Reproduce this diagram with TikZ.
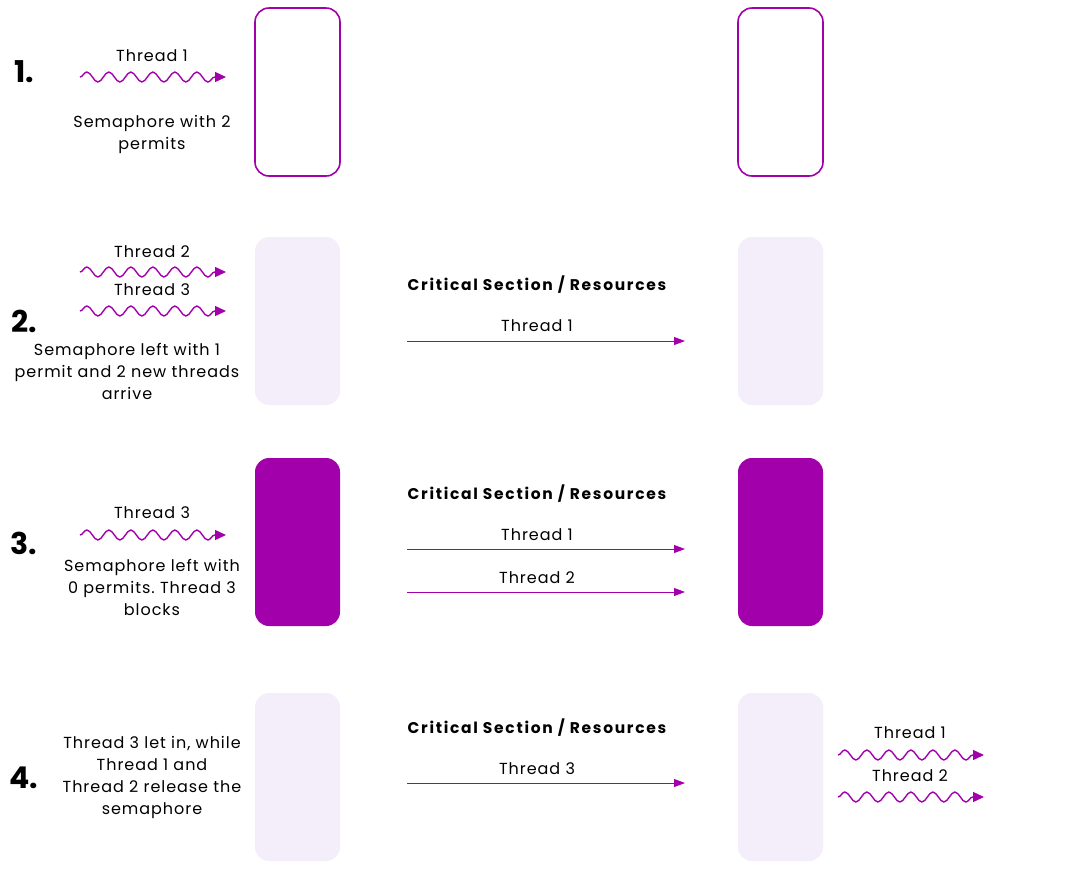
\documentclass[tikz,border=0pt]{standalone}
\usepackage{fontspec}
\setmainfont{Poppins}
\usetikzlibrary{arrows.meta,decorations.pathmorphing,positioning}
\definecolor{sempurple}{HTML}{A100AB}
\definecolor{semlight}{HTML}{F3EEF9}
\frenchspacing

\begin{document}
\begin{tikzpicture}[x=1pt,y=-1pt]
             \tikzstyle{gate} = [rounded corners=14pt,minimum width=85pt,minimum height=168pt,inner sep=0pt]
             \tikzstyle{opengate} = [gate,draw=sempurple,line width=1.6pt,fill=white]
             \tikzstyle{freegate} = [gate,fill=semlight]
             \tikzstyle{fullgate} = [gate,fill=sempurple]
             \tikzstyle{thread} = [draw=sempurple,line width=1.4pt,-{Triangle[length=11pt,width=10pt]},decorate,decoration={snake,segment length=22pt,amplitude=5pt,post length=10pt}]
             \tikzstyle{enter} = [draw=sempurple,line width=0.9pt,-{Triangle[length=11pt,width=8pt]}]
             \tikzstyle{txt} = [font=\fontsize{16}{22}\selectfont\addfontfeature{LetterSpace=6},align=center,inner sep=0pt]
             \tikzstyle{stepnum} = [font=\fontsize{30}{32}\bfseries\selectfont,inner sep=0pt]
             \tikzstyle{cstitle} = [font=\fontsize{15.5}{17}\bfseries\selectfont\addfontfeature{LetterSpace=11},inner sep=0pt]
		\useasboundingbox (0,0) rectangle (1088,879);
		% Step 1
		\node[stepnum] (n1) at (24,72) {1.};
		\node[opengate] (sem1) at (297.5,92) {};
		\node[opengate] (cs1) at (780.5,92) {};
		\node[txt] (t1_1) at (152,56) {Thread 1};
		\coordinate (w1_1a) at (80,77);
		\coordinate (w1_1b) at (226,77);
		\draw[thread] (w1_1a) -- (w1_1b);
		\node[txt] (d1) at (152,134) {Semaphore with 2\\permits};
		% Step 2
		\node[stepnum] (n2) at (24,321) {2.};
		\node[freegate] (sem2) at (297.5,321) {};
		\node[freegate] (cs2) at (780.5,321) {};
		\node[txt] (t2_2) at (152,252) {Thread 2};
		\coordinate (w2_2a) at (80,272);
		\coordinate (w2_2b) at (226,272);
		\draw[thread] (w2_2a) -- (w2_2b);
		\node[txt] (t2_3) at (152,290) {Thread 3};
		\coordinate (w2_3a) at (80,311);
		\coordinate (w2_3b) at (226,311);
		\draw[thread] (w2_3a) -- (w2_3b);
		\node[txt] (d2) at (127,371) {Semaphore left with 1\\permit and 2 new threads\\arrive};
		\node[cstitle] (h2) at (537,285) {Critical Section / Resources};
		\node[txt] (r2_1) at (537,326) {Thread 1};
		\coordinate (a2_1a) at (407,341);
		\coordinate (a2_1b) at (685,341);
		\draw[enter] (a2_1a) -- (a2_1b);
		% Step 3
		\node[stepnum] (n3) at (24,543) {3.};
		\node[fullgate] (sem3) at (297.5,542) {};
		\node[fullgate] (cs3) at (780.5,542) {};
		\node[txt] (t3_3) at (152,513) {Thread 3};
		\coordinate (w3_3a) at (80,535);
		\coordinate (w3_3b) at (226,535);
		\draw[thread] (w3_3a) -- (w3_3b);
		\node[txt] (d3) at (152,587) {Semaphore left with\\0 permits. Thread 3\\blocks};
		\node[cstitle] (h3) at (537,494) {Critical Section / Resources};
		\node[txt] (r3_1) at (537,535) {Thread 1};
		\coordinate (a3_1a) at (407,549);
		\coordinate (a3_1b) at (685,549);
		\draw[enter] (a3_1a) -- (a3_1b);
		\node[txt] (r3_2) at (537,578) {Thread 2};
		\coordinate (a3_2a) at (407,592);
		\coordinate (a3_2b) at (685,592);
		\draw[enter] (a3_2a) -- (a3_2b);
		% Step 4
		\node[stepnum] (n4) at (24,778) {4.};
		\node[freegate] (sem4) at (297.5,777) {};
		\node[freegate] (cs4) at (780.5,777) {};
		\node[txt] (d4) at (152,777) {Thread 3 let in, while\\Thread 1 and\\Thread 2 release the\\semaphore};
		\node[cstitle] (h4) at (537,728) {Critical Section / Resources};
		\node[txt] (r4_3) at (537,769) {Thread 3};
		\coordinate (a4_3a) at (407,783);
		\coordinate (a4_3b) at (685,783);
		\draw[enter] (a4_3a) -- (a4_3b);
		\node[txt] (o4_1) at (910,733) {Thread 1};
		\coordinate (w4_1a) at (838,755);
		\coordinate (w4_1b) at (984,755);
		\draw[thread] (w4_1a) -- (w4_1b);
		\node[txt] (o4_2) at (910,776) {Thread 2};
		\coordinate (w4_2a) at (838,797);
		\coordinate (w4_2b) at (984,797);
		\draw[thread] (w4_2a) -- (w4_2b);
		\end{tikzpicture}
\end{document}
